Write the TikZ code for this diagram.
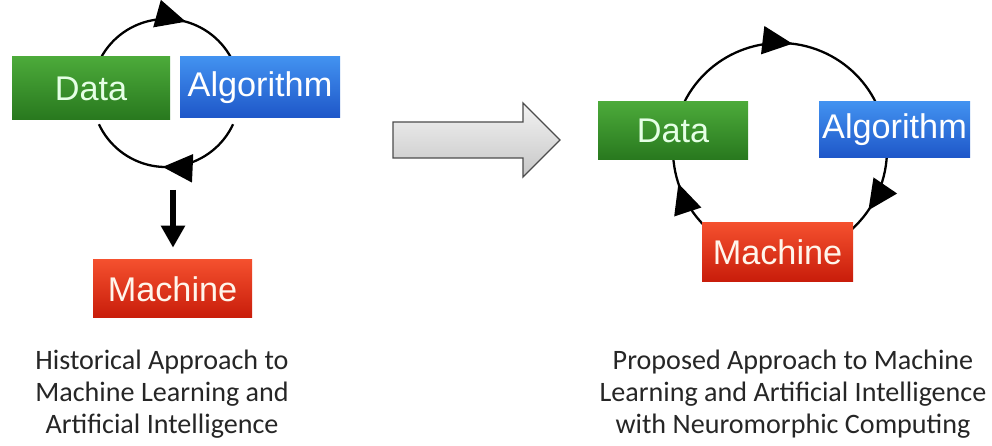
\documentclass[tikz,border=0pt]{standalone}
\usepackage{fontspec}
\setmainfont{Carlito}
\newfontfamily\boxfont{Liberation Sans}
\usetikzlibrary{arrows.meta,decorations.markings}

\definecolor{datatop}{RGB}{76,170,58}
\definecolor{databot}{RGB}{40,120,30}
\definecolor{algotop}{RGB}{66,146,240}
\definecolor{algobot}{RGB}{30,86,200}
\definecolor{machtop}{RGB}{244,80,46}
\definecolor{machbot}{RGB}{200,28,10}

\tikzset{
  box/.style={rectangle,inner sep=0pt,font=\boxfont\fontsize{19.5}{22}\selectfont},
  databox/.style={box,top color=datatop,bottom color=databot,text=green!10!white},
  algobox/.style={box,top color=algotop,bottom color=algobot,text=white},
  machbox/.style={box,top color=machtop,bottom color=machbot,text=orange!8!white},
  cyclearc/.style={line width=1.3pt,postaction={decorate},
    decoration={markings,mark=at position #1 with {\arrow{Triangle[length=0.6cm,width=0.56cm]}}}},
  caption/.style={align=center,font=\fontsize{16}{18.3}\selectfont,text=black!85}
}

\begin{document}
\begin{tikzpicture}[x=0.02cm,y=0.02cm]
\useasboundingbox (0,0) rectangle (992,-446);
\coordinate (lc) at (166,-93);
\coordinate (rc) at (780,-150);
\draw [cyclearc=0.62] (lc) ++(155:74) arc [start angle=155,end angle=25,radius=74];
\draw [cyclearc=0.52] (lc) ++(-25:74) arc [start angle=-25,end angle=-155,radius=74];
\draw [cyclearc=0.55] (rc) ++(157:107) arc [start angle=157,end angle=23,radius=107];
\draw [cyclearc=0.72] (rc) ++(1:107) arc [start angle=1,end angle=-48,radius=107];
\draw [cyclearc=0.62] (rc) ++(228:107) arc [start angle=228,end angle=180,radius=107];
\node [databox,minimum width=158*0.02cm,minimum height=63*0.02cm] (data1) at (91,-88.5) {Data};
\node [algobox,minimum width=160*0.02cm,minimum height=61*0.02cm] (algo1) at (260,-87.5) {Algorithm};
\node [machbox,minimum width=159*0.02cm,minimum height=58*0.02cm] (mach1) at (172.5,-289) {Machine};
\coordinate (lout) at (173,-190);
\draw [line width=3.4pt,-{Triangle[length=0.44cm,width=0.46cm]},shorten >=0.24cm] (lout) -- (mach1.north-|lout);
\node [databox,minimum width=150*0.02cm,minimum height=58*0.02cm] (data2) at (673,-131) {Data};
\node [algobox,minimum width=151*0.02cm,minimum height=56*0.02cm] (algo2) at (894.5,-130) {Algorithm};
\node [machbox,minimum width=151*0.02cm,minimum height=59*0.02cm] (mach2) at (777.5,-252.5) {Machine};
\draw [draw=black!70,line width=0.8pt,top color=black!5,bottom color=black!22]
  (393,-122) -- (523,-122) -- (523,-103) -- (560,-140) -- (523,-177) -- (523,-158) -- (393,-158) -- cycle;
\node [caption] (cap1) at (162,-394) {Historical Approach to\\Machine Learning and\\Artificial Intelligence};
\node [caption] (cap2) at (793,-394) {Proposed Approach to Machine\\Learning and Artificial Intelligence\\with Neuromorphic Computing};
\end{tikzpicture}
\end{document}
